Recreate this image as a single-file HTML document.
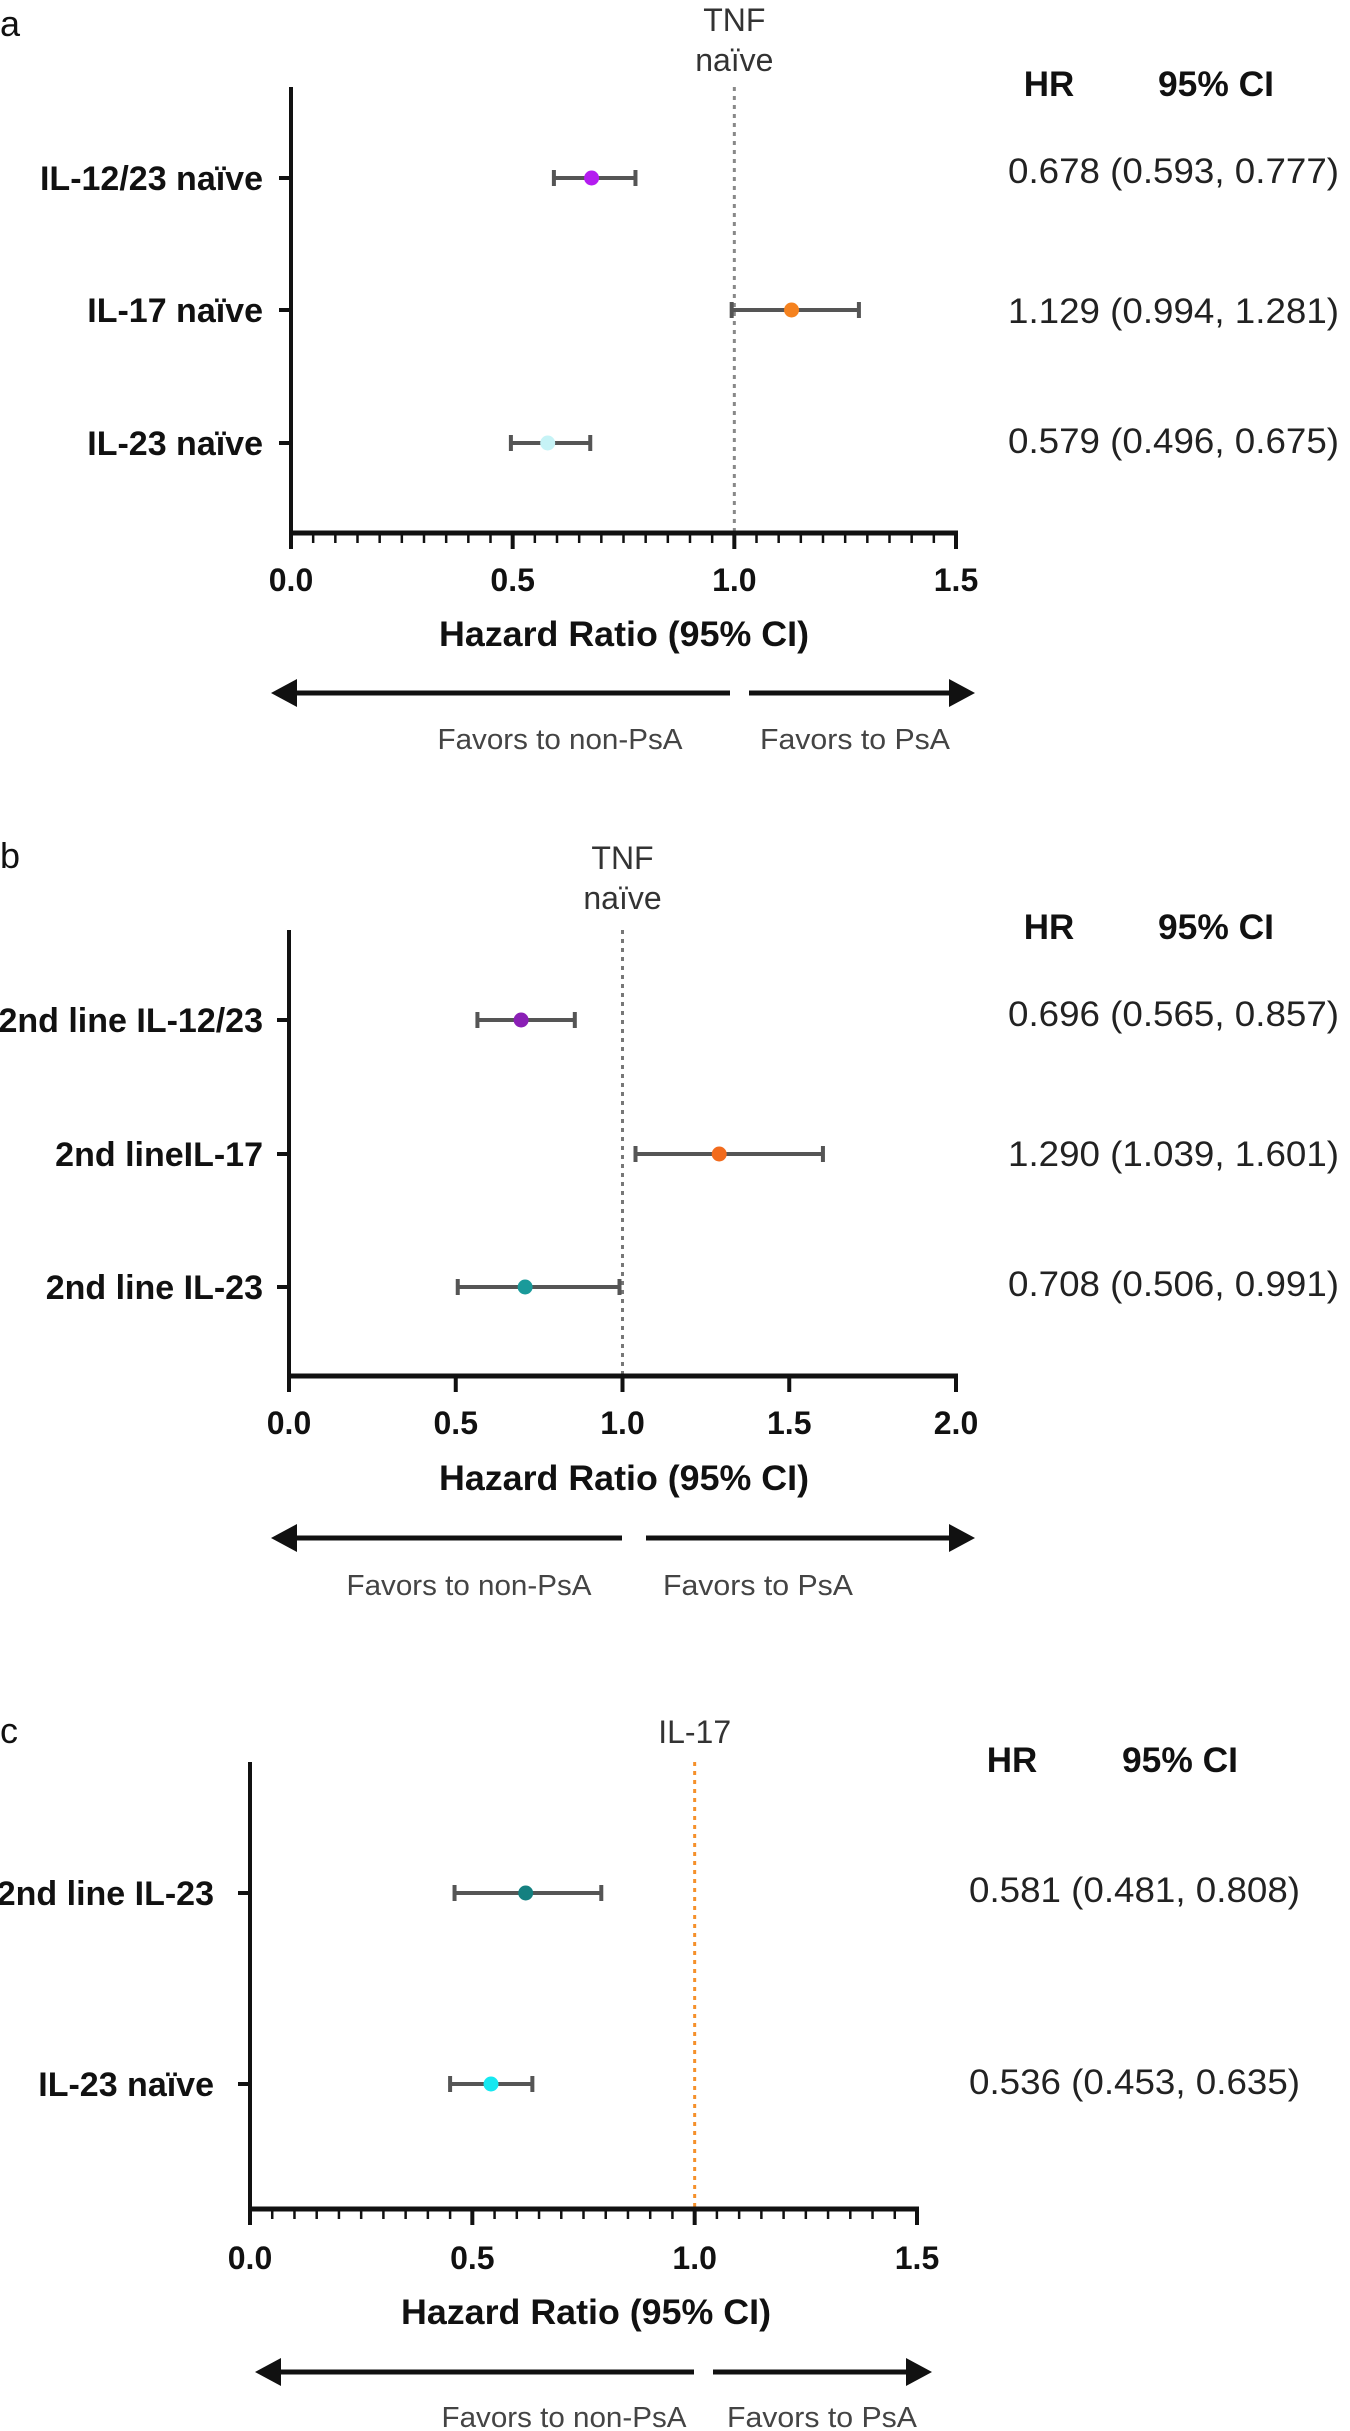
<!DOCTYPE html>
<html><head><meta charset="utf-8"><style>
html,body{margin:0;padding:0;background:#fff;}
svg{display:block;font-family:"Liberation Sans",Arial,sans-serif;}
</style></head><body>
<svg id="fig" width="1350" height="2431" viewBox="0 0 1350 2431" xmlns="http://www.w3.org/2000/svg"></svg>
<script>
// Panel a data
const aCategories = ["IL-12/23 naïve","IL-17 naïve","IL-23 naïve"];
const aHR = [0.678, 1.129, 0.579];
const aLo = [0.593, 0.994, 0.496];
const aHi = [0.777, 1.281, 0.675];
const aLabels = ["0.678 (0.593, 0.777)","1.129 (0.994, 1.281)","0.579 (0.496, 0.675)"];
const aTicks = ["0.0","0.5","1.0","1.5"];
// Panel b data
const bCategories = ["2nd line IL-12/23","2nd lineIL-17","2nd line IL-23"];
const bHR = [0.696, 1.290, 0.708];
const bLo = [0.565, 1.039, 0.506];
const bHi = [0.857, 1.601, 0.991];
const bLabels = ["0.696 (0.565, 0.857)","1.290 (1.039, 1.601)","0.708 (0.506, 0.991)"];
const bTicks = ["0.0","0.5","1.0","1.5","2.0"];
// Panel c data
const cCategories = ["2nd line IL-23","IL-23 naïve"];
const cHR = [0.62, 0.542];
const cLo = [0.46, 0.45];
const cHi = [0.79, 0.635];
const cLabels = ["0.581 (0.481, 0.808)","0.536 (0.453, 0.635)"];
const cTicks = ["0.0","0.5","1.0","1.5"];

const NS="http://www.w3.org/2000/svg";
const svg=document.getElementById('fig');
function mk(tag,attrs,parent,txt){const e=document.createElementNS(NS,tag);for(const k in attrs)e.setAttribute(k,attrs[k]);if(txt!==undefined)e.textContent=txt;(parent||svg).appendChild(e);return e;}

function panel(o){
  const g=mk('g',{});
  
  
  const xs=v=>o.x0+(v-o.min)/(o.max-o.min)*(o.x1-o.x0);
  const t=mk('text',{x:0,y:o.letterY,'font-size':36,fill:'#111'},g,o.letter);
  
  
  const rx=xs(1.0);
  const rl=mk('line',{x1:rx,y1:o.top,x2:rx,y2:o.axisY,stroke:o.refColor,'stroke-width':3,'stroke-dasharray':'4,5'},g);
  
  
  o.refText.forEach((s,i)=>{
    const r=mk('text',{x:rx,y:o.refY+i*40,'font-size':32,'text-anchor':'middle',fill:'#333'},g,s);
    
    
  });
  const ya=mk('line',{x1:o.x0,y1:o.top,x2:o.x0,y2:o.axisY+2,stroke:'#111','stroke-width':4},g);
  
  
  const xa=mk('line',{x1:o.x0-2,y1:o.axisY,x2:o.x1+2,y2:o.axisY,stroke:'#111','stroke-width':5},g);
  
  
  o.ticks.forEach(s=>{
    const v=parseFloat(s),x=xs(v);
    mk('line',{x1:x,y1:o.axisY,x2:x,y2:o.axisY+16,stroke:'#111','stroke-width':4},g);
    const tl=mk('text',{x:x,y:o.tickY,'font-size':32,'font-weight':'bold','text-anchor':'middle',fill:'#111'},g,s);
    
    
  });
  if(o.minor){for(let v=o.min;v<o.max-0.001;v+=0.05){if(Math.abs(v*2-Math.round(v*2))<0.01)continue;const x=xs(v);mk('line',{x1:x,y1:o.axisY,x2:x,y2:o.axisY+10,stroke:'#111','stroke-width':2.5},g);}}
  const at=mk('text',{x:o.titleX,y:o.titleY,'font-size':35,'font-weight':'bold','text-anchor':'middle',fill:'#111',textLength:370,lengthAdjust:'spacingAndGlyphs'},g,'Hazard Ratio (95% CI)');
  
  
  const ay=o.arrowY;
  const la=mk('path',{d:`M${o.lArrow[0]},${ay}L${o.lArrow[1]+22},${ay}`,stroke:'#111','stroke-width':5,fill:'none'},g);
  
  
  mk('path',{d:`M${o.lArrow[1]},${ay}L${o.lArrow[1]+26},${ay-14}L${o.lArrow[1]+26},${ay+14}Z`,fill:'#111'},g);
  const ra=mk('path',{d:`M${o.rArrow[0]},${ay}L${o.rArrow[1]-22},${ay}`,stroke:'#111','stroke-width':5,fill:'none'},g);
  
  
  mk('path',{d:`M${o.rArrow[1]},${ay}L${o.rArrow[1]-26},${ay-14}L${o.rArrow[1]-26},${ay+14}Z`,fill:'#111'},g);
  const f1=mk('text',{x:o.favX[0],y:o.favY,'font-size':29,'text-anchor':'middle',fill:'#444',textLength:245,lengthAdjust:'spacingAndGlyphs'},g,'Favors to non-PsA');
  
  
  const f2=mk('text',{x:o.favX[1],y:o.favY,'font-size':29,'text-anchor':'middle',fill:'#444',textLength:190,lengthAdjust:'spacingAndGlyphs'},g,'Favors to PsA');
  
  
  const h1=mk('text',{x:o.hrX,y:o.headY,'font-size':35,'font-weight':'bold','text-anchor':'middle',fill:'#111'},g,'HR');
  
  
  const h2=mk('text',{x:o.ciX,y:o.headY,'font-size':35,'font-weight':'bold','text-anchor':'middle',fill:'#111',textLength:116,lengthAdjust:'spacingAndGlyphs'},g,'95% CI');
  
  
  o.cats.forEach((c,i)=>{
    const y=o.rows[i];
    mk('line',{x1:o.x0-12,y1:y,x2:o.x0,y2:y,stroke:'#111','stroke-width':4},g);
    const cl=mk('text',{x:o.labelR,y:y+12,'font-size':34,'font-weight':'bold','text-anchor':'end',fill:'#111'},g,c);
    
    
    const lo=xs(o.lo[i]),hi=xs(o.hi[i]);
    const eb=mk('path',{d:`M${lo},${y}L${hi},${y}M${lo},${y-8}L${lo},${y+8}M${hi},${y-8}L${hi},${y+8}`,stroke:'#555','stroke-width':4,fill:'none'},g);
    
    
    const pt=mk('circle',{cx:xs(o.hr[i]),cy:y,r:7.5,fill:o.colors[i]},g);
    
    
    const vt=mk('text',{x:o.valX,y:o.valY[i]+12,'font-size':35,fill:'#222',textLength:o.valW,lengthAdjust:'spacingAndGlyphs'},g,o.labels[i]);
    
    
  });
}

panel({letter:'a',letterY:36,x0:291,x1:956,min:0,max:1.5,top:87,axisY:533,minor:true,
  refColor:'#888',refText:['TNF','naïve'],refY:31,ticks:aTicks,tickY:591,titleX:624,titleY:646,
  arrowY:693,lArrow:[730,271],rArrow:[749,975],favX:[560,855],favY:749,
  hrX:1049,ciX:1216,headY:96,rows:[178,310,443],labelR:263,
  cats:aCategories,hr:aHR,lo:aLo,hi:aHi,labels:aLabels,colors:['#b41cf0','#f5821f','#c6f3f6'],
  valX:1008,valW:331,valY:[171,311,441]});
panel({letter:'b',letterY:868,x0:289,x1:956,min:0,max:2.0,top:930,axisY:1376,minor:false,
  refColor:'#777',refText:['TNF','naïve'],refY:869,ticks:bTicks,tickY:1434,titleX:624,titleY:1490,
  arrowY:1538,lArrow:[622,271],rArrow:[646,975],favX:[469,758],favY:1595,
  hrX:1049,ciX:1216,headY:939,rows:[1020,1154,1287],labelR:263,
  cats:bCategories,hr:bHR,lo:bLo,hi:bHi,labels:bLabels,colors:['#8a1fb5','#f26b1d','#1a9a9a'],
  valX:1008,valW:331,valY:[1014,1154,1284]});
panel({letter:'c',letterY:1743,x0:250,x1:917,min:0,max:1.5,top:1762,axisY:2209,minor:true,
  refColor:'#f5902a',refText:['IL-17'],refY:1743,ticks:cTicks,tickY:2269,titleX:586,titleY:2324,
  arrowY:2372,lArrow:[694,255],rArrow:[713,932],favX:[564,822],favY:2427,
  hrX:1012,ciX:1180,headY:1772,rows:[1893,2084],labelR:214,
  cats:cCategories,hr:cHR,lo:cLo,hi:cHi,labels:cLabels,colors:['#148080','#16e8f0'],
  valX:969,valW:331,valY:[1890,2082]});
</script>
</body></html>
